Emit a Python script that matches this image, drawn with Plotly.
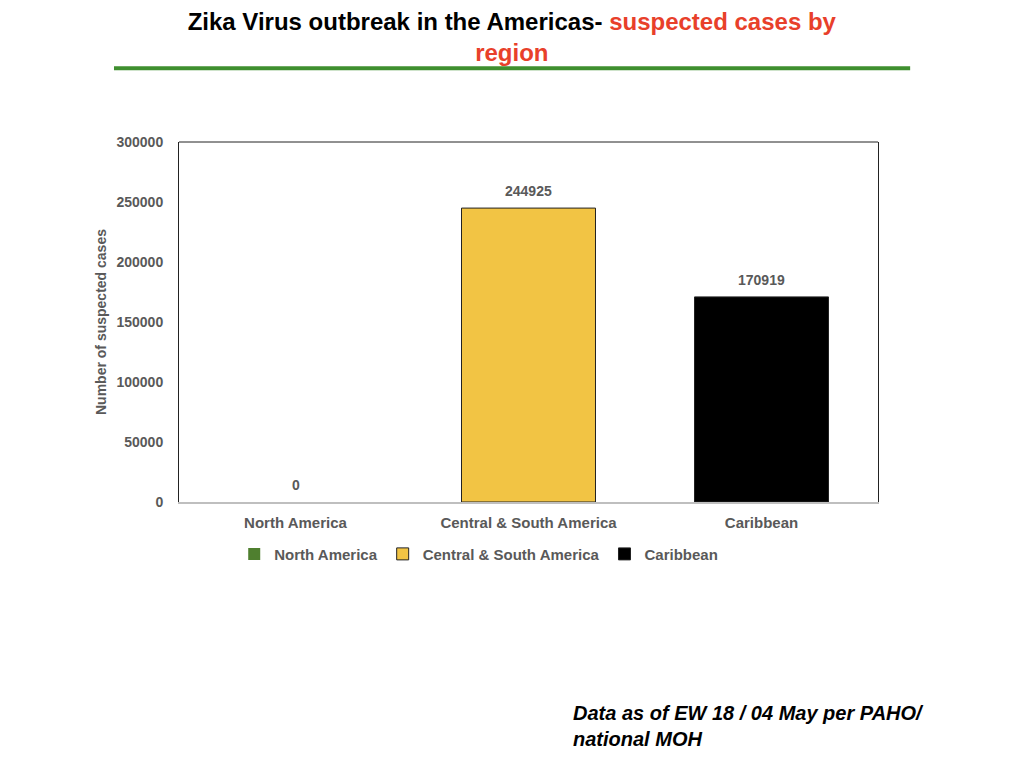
import plotly.graph_objects as go

regions = ['North America', 'Central & South America', 'Caribbean']
cases = [0, 244925, 170919]
colors = ['#4f7f2f', '#f2c444', '#000000']
y_ticks = [0, 50000, 100000, 150000, 200000, 250000, 300000]

font = 'Liberation Sans, Arial, sans-serif'
grey = '#595959'

fig = go.Figure()
for name, val, col in zip(regions, cases, colors):
    fig.add_trace(go.Bar(
        x=[name], y=[val], name=name,
        marker=dict(color=col, line=dict(color='#222222', width=1 if val else 0)),
        width=0.575,
    ))
    # value label above each bar
    fig.add_annotation(x=name, y=val, text=f'<b>{val}</b>', showarrow=False,
                       yanchor='bottom', yshift=7,
                       font=dict(family=font, size=14, color=grey))

fig.update_layout(
    width=1024, height=768,
    paper_bgcolor='white', plot_bgcolor='white',
    margin=dict(l=171, r=154, t=134, b=274),
    barmode='overlay',
    showlegend=True,
    legend=dict(orientation='h', x=0.079, xanchor='left', y=-0.099, yanchor='top',
                font=dict(family=font, size=15, color=grey, weight='bold'),
                traceorder='normal', itemwidth=30),
    font=dict(family=font, color=grey),
    title=dict(
        text='<b>Zika Virus outbreak in the Americas- <span style="color:#e8402a">suspected cases by</span></b><br>'
             '<b><span style="color:#e8402a">region</span></b>',
        x=0.492, xanchor='center', y=0.972, yanchor='top',
        font=dict(family=font, size=24, color='black'),
    ),
)

fig.update_xaxes(showline=True, linecolor='#bfbfbf', linewidth=2, ticks='',
                 ticklabelstandoff=6,
                 tickfont=dict(family=font, size=15, color=grey, weight='bold'), showgrid=False)
fig.update_yaxes(range=[0, 300000], tickvals=y_ticks, showgrid=False,
                 showline=True, linecolor='#222222', linewidth=1, mirror=True,
                 ticklabelstandoff=12,
                 tickfont=dict(family=font, size=14, color=grey, weight='bold'),
                 title=dict(text='<b>Number of suspected cases</b>',
                            font=dict(family=font, size=14, color=grey), standoff=6),
                 tickformat='d', zeroline=False)

# plot frame top edge
fig.add_shape(type='line', xref='paper', yref='paper', x0=0, x1=1, y0=1, y1=1,
              line=dict(color='#222222', width=1))
# green rule below the title
fig.add_shape(type='line', xref='paper', yref='paper', x0=-0.093, x1=1.046, y0=1.205, y1=1.205,
              line=dict(color='#3f8f2f', width=4))

fig.add_annotation(text='<b><i>Data as of EW 18 / 04 May per PAHO/<br>national MOH</i></b>',
                   xref='paper', yref='paper', x=0.561, y=-0.55, xanchor='left', yanchor='top',
                   align='left', showarrow=False, font=dict(family=font, size=20, color='black'))

fig.write_html('out.html')
